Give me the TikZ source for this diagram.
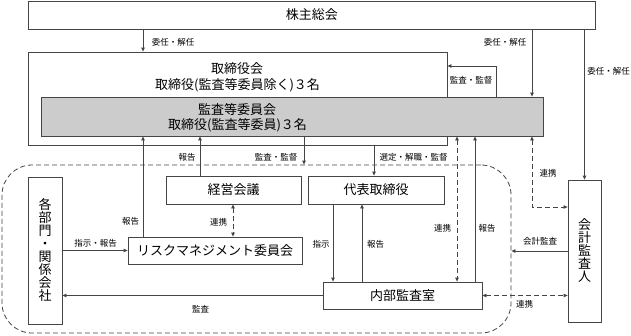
\documentclass[tikz,border=0pt]{standalone}
\usepackage{fontspec}
\setmainfont{Noto Sans CJK JP}
\usetikzlibrary{arrows.meta,calc}
\definecolor{ln}{HTML}{454545}
\definecolor{gfill}{HTML}{CCCCCC}
\begin{document}
\begin{tikzpicture}[x=1pt,y=-1pt,
 box/.style={draw=ln,line width=0.8pt,fill=white,inner sep=0pt,font=\fontsize{13}{14}\selectfont},
 vbox/.style={box,align=center,font=\fontsize{13}{13}\selectfont},
 big/.style={font=\fontsize{13}{14}\selectfont,inner sep=0pt},
 lbl/.style={font=\fontsize{8.5}{10}\selectfont,inner sep=0pt},
 arr/.style={draw=ln,line width=0.8pt,-{Triangle[length=4pt,width=3.5pt]}},
 darr/.style={draw=ln,line width=0.8pt,dash pattern=on 5pt off 3pt,{Triangle[length=4pt,width=3.5pt]}-{Triangle[length=4pt,width=3.5pt]}},
 region/.style={draw=ln,line width=0.8pt,dash pattern=on 5pt off 3pt,rounded corners=30pt,inner sep=0pt}
]
\useasboundingbox (0,0) rectangle (631,335);

% dashed region
\node[region,minimum width=509pt,minimum height=168pt] (region) at (256.5,249) {};

% boxes
\node[box,minimum width=566.5pt,minimum height=28pt] (sh) at (311.75,15) {株主総会};
\node[box,minimum width=418.3pt,minimum height=93pt] (board) at (237.85,98.5) {};
\node[box,fill=gfill,minimum width=501.7pt,minimum height=39pt] (gray) at (292.15,116.5) {};
\node[big] (bt1) at (237,69) {取締役会};
\node[big] (bt2) at (237.5,85.5) {取締役(監査等委員除く)３名};
\node[big] (gt1) at (237,109.5) {監査等委員会};
\node[big] (gt2) at (237.5,125.5) {取締役(監査等委員)３名};

\node[box,minimum width=135pt,minimum height=28pt] (keiei) at (233.5,190) {経営会議};
\node[box,minimum width=136pt,minimum height=28pt] (daihyo) at (376,190) {代表取締役};
\node[vbox,minimum width=34pt,minimum height=147pt] (kakubu) at (45,250.5) {各\\部\\門\\・\\関\\係\\会\\社};
\node[box,minimum width=174pt,minimum height=27pt] (risk) at (215,250.5) {リスクマネジメント委員会};
\node[box,minimum width=159pt,minimum height=27pt] (naibu) at (402.5,295.5) {内部監査室};
\node[vbox,minimum width=33pt,minimum height=142pt] (kaikei) at (584.5,251) {会\\計\\監\\査\\人};

% helper coordinates
\coordinate (xa) at (143,0);
\coordinate (xb) at (532,0);
\coordinate (xd) at (496,0);
\coordinate (yd) at (0,66);
\coordinate (xk) at (200,0);
\coordinate (xe) at (304,0);
\coordinate (xf) at (374,0);
\coordinate (xg) at (457,0);
\coordinate (xh) at (475,0);
\coordinate (yi) at (0,207);
\coordinate (xr) at (233,0);
\coordinate (xs) at (333,0);
\coordinate (xt) at (362,0);

% connectors
\draw[arr] (sh.south -| xa) -- (board.north -| xa);
\draw[arr] (sh.south -| xb) -- (gray.north -| xb);
\draw[arr] (sh.south -| kaikei.north) -- (kaikei.north);
\draw[arr] (gray.north -| xd) |- (board.east |- yd);
\draw[arr] (risk.north -| xa) -- (gray.south -| xa);
\draw[arr] (keiei.north -| xk) -- (gray.south -| xk);
\draw[arr] (gray.south -| xe) -- (region.north -| xe);
\draw[arr] (board.south -| xf) -- (daihyo.north -| xf);
\draw[darr] (gray.south -| xg) -- (naibu.north -| xg);
\draw[arr] (naibu.north -| xh) -- (gray.south -| xh);
\draw[darr] (gray.south -| xb) |- (kaikei.west |- yi);
\draw[darr] (keiei.south -| xr) -- (risk.north -| xr);
\draw[arr] (daihyo.south -| xs) -- (naibu.north -| xs);
\draw[arr] (naibu.north -| xt) -- (daihyo.south -| xt);
\draw[arr] (kakubu.east |- risk.west) -- (risk.west);
\draw[arr] (naibu.west) -- (kakubu.east |- naibu.west);
\draw[arr] (kaikei.west) -- (region.east |- kaikei.west);
\draw[darr] (naibu.east) -- (kaikei.west |- naibu.east);

% labels
\node[lbl] at (173,42) {委任・解任};
\node[lbl] at (505,42) {委任・解任};
\node[lbl] at (608.5,71) {委任・解任};
\node[lbl] at (471,80) {監査・監督};
\node[lbl] at (187,157) {報告};
\node[lbl] at (276,157) {監査・監督};
\node[lbl] at (413.5,157) {選定・解職・監督};
\node[lbl] at (548,173) {連携};
\node[lbl] at (130.5,221) {報告};
\node[lbl] at (218.5,222) {連携};
\node[lbl] at (95.5,243) {指示・報告};
\node[lbl] at (321,244) {指示};
\node[lbl] at (375.5,244) {報告};
\node[lbl] at (442.5,228) {連携};
\node[lbl] at (487,228) {報告};
\node[lbl] at (540,241) {会計監査};
\node[lbl] at (200.5,309) {監査};
\node[lbl] at (524.5,304) {連携};
\end{tikzpicture}
\end{document}
